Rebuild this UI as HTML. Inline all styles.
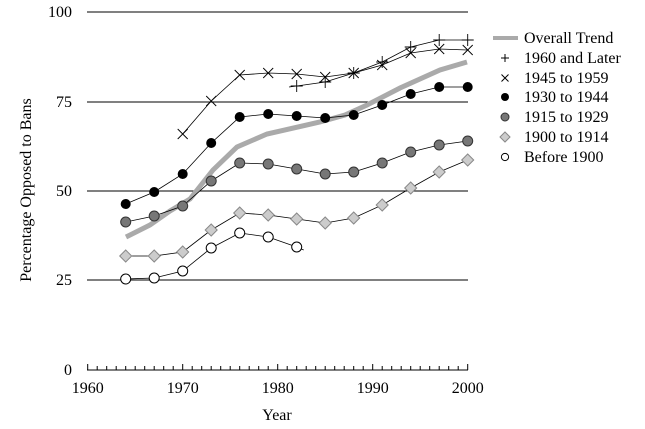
<!DOCTYPE html>
<html><head><style>body{margin:0;background:#fff}svg{display:block;font-family:"Liberation Serif",serif}</style></head><body>
<svg width="645" height="429" viewBox="0 0 645 429">
<defs>
<circle id="oc" r="5" fill="#fff" stroke="#000"/>
<path id="dm" d="M0,-6l6,6l-6,6l-6,-6z" fill="#ccc" stroke="#888"/>
<circle id="gc" r="5" fill="#777" stroke="#333"/>
<circle id="bc" r="5" fill="#000"/>
<path id="xm" d="M-5,-5l10,10M5,-5l-10,10" stroke="#000" stroke-width="0.9"/>
<path id="pm" d="M-6,0h12M0,-6v12" stroke="#000" stroke-width="0.9"/>
</defs>
<g stroke="#000" stroke-width="1">
<line x1="87" y1="12" x2="468" y2="12"/><line x1="87" y1="102" x2="468" y2="102"/><line x1="87" y1="191" x2="468" y2="191"/><line x1="87" y1="280" x2="468" y2="280"/><line x1="87" y1="370" x2="468" y2="370"/>
<path d="M87.7,370v-6M97.2,370v-4M106.7,370v-4M116.2,370v-4M125.7,370v-4M135.2,370v-4M144.7,370v-4M154.2,370v-4M163.7,370v-4M173.2,370v-4M182.7,370v-6M192.2,370v-4M201.7,370v-4M211.2,370v-4M220.7,370v-4M230.2,370v-4M239.7,370v-4M249.2,370v-4M258.7,370v-4M268.2,370v-4M277.7,370v-6M287.2,370v-4M296.7,370v-4M306.2,370v-4M315.7,370v-4M325.2,370v-4M334.7,370v-4M344.2,370v-4M353.7,370v-4M363.2,370v-4M372.7,370v-6M382.2,370v-4M391.7,370v-4M401.2,370v-4M410.7,370v-4M420.2,370v-4M429.7,370v-4M439.2,370v-4M448.7,370v-4M458.2,370v-4M467.7,370v-6"/>
</g>
<g font-size="16" text-anchor="end" fill="#000">
<text x="72" y="17">100</text><text x="72" y="107">75</text><text x="72" y="196">50</text><text x="72" y="285">25</text><text x="72" y="375">0</text>
</g>
<g font-size="16" text-anchor="middle">
<text x="87.7" y="393">1960</text><text x="182.7" y="393">1970</text><text x="277.7" y="393">1980</text><text x="372.7" y="393">1990</text><text x="467.7" y="393">2000</text>
<text x="277" y="420">Year</text>
<text transform="translate(31,190) rotate(-90)">Percentage Opposed to Bans</text>
</g>
<polyline fill="none" stroke="#aaa" stroke-width="5" points="126,237 150,225 170,211 190,199 213,170 237,147 267,134 320,122 345,115 367,105 400,88 440,70 467,62"/>
<g fill="none" stroke="#000" stroke-width="0.8">
<polyline points="125.7,279 154.2,278 182.7,271 211.2,248 239.7,233 268.2,237 296.7,247 303.7,250"/>
<polyline points="125.7,256 154.2,256 182.7,252 211.2,230 239.7,213 268.2,215 296.7,219 325.2,223 353.7,218 382.2,205 410.7,188 439.2,172 467.7,160"/>
<polyline points="125.7,222 154.2,216 182.7,206 211.2,181 239.7,163 268.2,164 296.7,169 325.2,174 353.7,172 382.2,163 410.7,152 439.2,145 467.7,141"/>
<polyline points="125.7,204 154.2,192 182.7,174 211.2,143 239.7,117 268.2,114 296.7,116 325.2,118 353.7,115 382.2,105 410.7,94 439.2,87 467.7,87"/>
<polyline points="182.7,134 211.2,101 239.7,75 268.2,73 296.7,74 325.2,77 353.7,73 382.2,65 410.7,53 439.2,49 467.7,50"/>
<polyline points="289,87 296.7,86 325.2,82 353.7,73 382.2,62 410.7,47 439.2,40 467.7,40"/>
</g>
<use href="#oc" x="125.7" y="279"/><use href="#oc" x="154.2" y="278"/><use href="#oc" x="182.7" y="271"/><use href="#oc" x="211.2" y="248"/><use href="#oc" x="239.7" y="233"/><use href="#oc" x="268.2" y="237"/><use href="#oc" x="296.7" y="247"/>
<use href="#dm" x="125.7" y="256"/><use href="#dm" x="154.2" y="256"/><use href="#dm" x="182.7" y="252"/><use href="#dm" x="211.2" y="230"/><use href="#dm" x="239.7" y="213"/><use href="#dm" x="268.2" y="215"/><use href="#dm" x="296.7" y="219"/><use href="#dm" x="325.2" y="223"/><use href="#dm" x="353.7" y="218"/><use href="#dm" x="382.2" y="205"/><use href="#dm" x="410.7" y="188"/><use href="#dm" x="439.2" y="172"/><use href="#dm" x="467.7" y="160"/>
<use href="#gc" x="125.7" y="222"/><use href="#gc" x="154.2" y="216"/><use href="#gc" x="182.7" y="206"/><use href="#gc" x="211.2" y="181"/><use href="#gc" x="239.7" y="163"/><use href="#gc" x="268.2" y="164"/><use href="#gc" x="296.7" y="169"/><use href="#gc" x="325.2" y="174"/><use href="#gc" x="353.7" y="172"/><use href="#gc" x="382.2" y="163"/><use href="#gc" x="410.7" y="152"/><use href="#gc" x="439.2" y="145"/><use href="#gc" x="467.7" y="141"/>
<use href="#bc" x="125.7" y="204"/><use href="#bc" x="154.2" y="192"/><use href="#bc" x="182.7" y="174"/><use href="#bc" x="211.2" y="143"/><use href="#bc" x="239.7" y="117"/><use href="#bc" x="268.2" y="114"/><use href="#bc" x="296.7" y="116"/><use href="#bc" x="325.2" y="118"/><use href="#bc" x="353.7" y="115"/><use href="#bc" x="382.2" y="105"/><use href="#bc" x="410.7" y="94"/><use href="#bc" x="439.2" y="87"/><use href="#bc" x="467.7" y="87"/>
<use href="#xm" x="182.7" y="134"/><use href="#xm" x="211.2" y="101"/><use href="#xm" x="239.7" y="75"/><use href="#xm" x="268.2" y="73"/><use href="#xm" x="296.7" y="74"/><use href="#xm" x="325.2" y="77"/><use href="#xm" x="353.7" y="73"/><use href="#xm" x="382.2" y="65"/><use href="#xm" x="410.7" y="53"/><use href="#xm" x="439.2" y="49"/><use href="#xm" x="467.7" y="50"/>
<use href="#pm" x="296.7" y="86"/><use href="#pm" x="325.2" y="82"/><use href="#pm" x="353.7" y="73"/><use href="#pm" x="382.2" y="62"/><use href="#pm" x="410.7" y="47"/><use href="#pm" x="439.2" y="40"/><use href="#pm" x="467.7" y="40"/>
<g font-size="16">
<line x1="493" y1="38" x2="518" y2="38" stroke="#aaa" stroke-width="4"/>
<text x="524" y="43">Overall Trend</text>
<text x="524" y="63">1960 and Later</text>
<text x="524" y="83">1945 to 1959</text>
<text x="524" y="102">1930 to 1944</text>
<text x="524" y="122">1915 to 1929</text>
<text x="524" y="142">1900 to 1914</text>
<text x="524" y="162">Before 1900</text>
<path d="M501,58h8M505,54v8M501.5,74.5l7,7M508.5,74.5l-7,7" stroke="#000" stroke-width="1" fill="none"/>
<circle cx="505" cy="97" r="4" fill="#000"/>
<circle cx="505" cy="117" r="4" fill="#777" stroke="#333"/>
<path d="M505,132l5,5l-5,5l-5,-5z" fill="#ccc" stroke="#888"/>
<circle cx="505" cy="157" r="3.6" fill="#fff" stroke="#000"/>
</g>
</svg>
</body></html>
